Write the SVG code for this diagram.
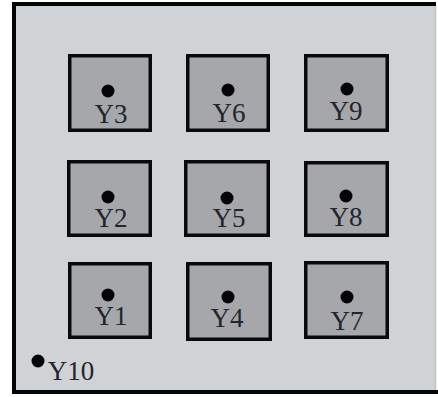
<svg xmlns="http://www.w3.org/2000/svg" width="438" height="397" viewBox="0 0 438 397">
<style>
.box{fill:#a6a7aa;stroke:#0a0a0a;stroke-width:3.5}
.dot{fill:#050505}
.lbl{font-family:"Liberation Serif",serif;font-size:27px;fill:#23242c;text-anchor:middle}
</style>
<rect x="0" y="0" width="438" height="397" fill="#ffffff"/>
<g id="frame">
<rect x="14" y="4" width="422" height="388" fill="#d0d3d6"/>
<line x1="435.5" y1="6" x2="435.5" y2="390" stroke="#bfc1c3" stroke-width="1.5"/>
<line x1="12" y1="4" x2="436" y2="4" stroke="#050505" stroke-width="4"/>
<line x1="14" y1="2" x2="14" y2="394" stroke="#050505" stroke-width="4"/>
<line x1="12" y1="392" x2="438" y2="392" stroke="#050505" stroke-width="4"/>
</g>
<g id="Y3"><rect class="box" x="69.75" y="55.75" width="80.5" height="74.5"/><circle class="dot" cx="108" cy="91" r="6.5"/><text class="lbl" x="111" y="123">Y3</text></g>
<g id="Y6"><rect class="box" x="187.75" y="55.75" width="80.5" height="74.5"/><circle class="dot" cx="228" cy="90" r="6.5"/><text class="lbl" x="229" y="122">Y6</text></g>
<g id="Y9"><rect class="box" x="305.75" y="55.75" width="81.5" height="74.5"/><circle class="dot" cx="347" cy="89" r="6.5"/><text class="lbl" x="346" y="120">Y9</text></g>
<g id="Y2"><rect class="box" x="68.75" y="161.75" width="81.5" height="73.5"/><circle class="dot" cx="108" cy="197" r="6.5"/><text class="lbl" x="111" y="227">Y2</text></g>
<g id="Y5"><rect class="box" x="185.75" y="161.75" width="82.5" height="73.5"/><circle class="dot" cx="227" cy="198" r="6.5"/><text class="lbl" x="229" y="227">Y5</text></g>
<g id="Y8"><rect class="box" x="305.75" y="162.75" width="81.5" height="72.5"/><circle class="dot" cx="346" cy="196" r="6.5"/><text class="lbl" x="346" y="226">Y8</text></g>
<g id="Y1"><rect class="box" x="69.75" y="263.75" width="80.5" height="73.5"/><circle class="dot" cx="108" cy="295" r="6.5"/><text class="lbl" x="111" y="325">Y1</text></g>
<g id="Y4"><rect class="box" x="187.75" y="263.75" width="82.5" height="75.5"/><circle class="dot" cx="228" cy="297" r="6.5"/><text class="lbl" x="227" y="327">Y4</text></g>
<g id="Y7"><rect class="box" x="305.75" y="262.75" width="81.5" height="74.5"/><circle class="dot" cx="347" cy="297" r="6.5"/><text class="lbl" x="347" y="330">Y7</text></g>
<g id="Y10"><circle class="dot" cx="38" cy="361" r="6.5"/><text class="lbl" x="71" y="380">Y10</text></g>
<g id="connectors"/>
</svg>
